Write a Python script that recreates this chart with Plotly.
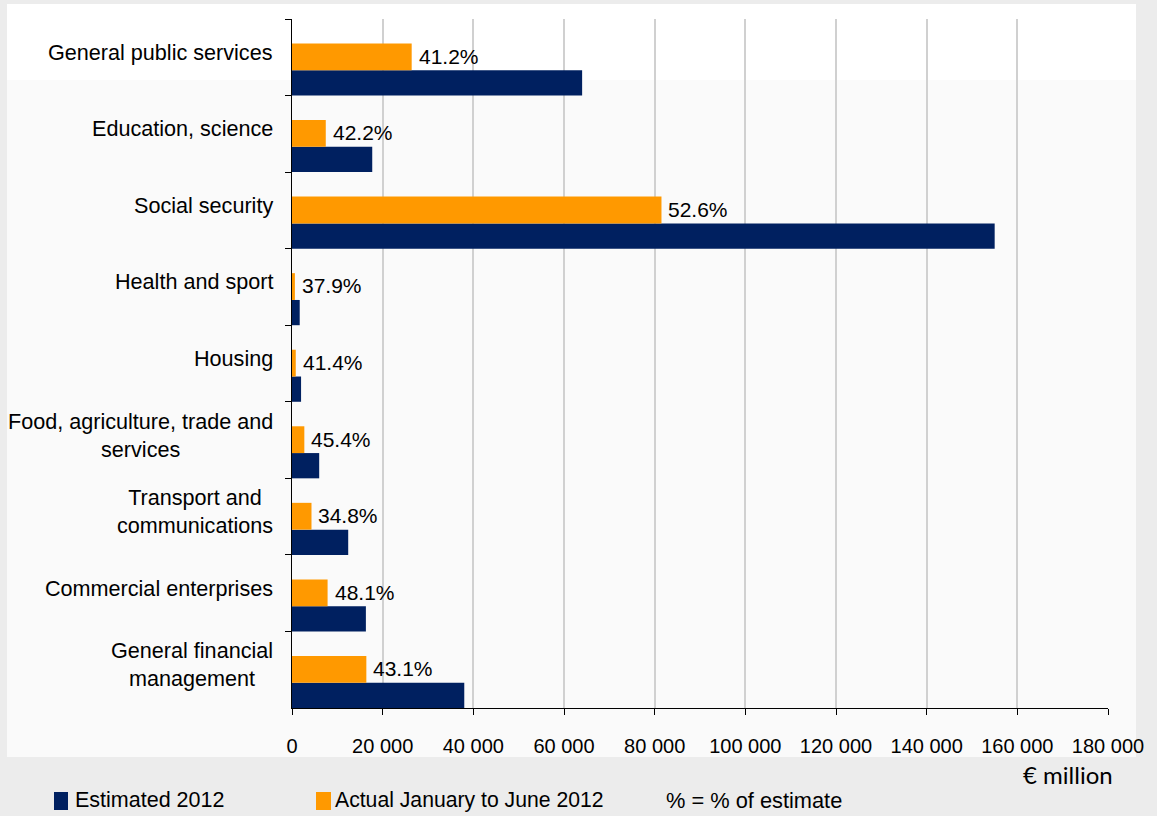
import plotly.graph_objects as go

# Functional breakdown of central government expenditure (EUR million)
categories = [
    "General public services",
    "Education, science",
    "Social security",
    "Health and sport",
    "Housing",
    "Food, agriculture, trade and<br>services",
    "Transport and<br>communications",
    "Commercial enterprises",
    "General financial<br>management",
]
estimated_2012 = [64000, 17700, 155000, 1700, 2000, 6000, 12400, 16300, 38000]
actual_jan_jun_2012 = [26400, 7450, 81500, 640, 830, 2720, 4300, 7850, 16400]
pct_of_estimate = ["41.2%", "42.2%", "52.6%", "37.9%", "41.4%",
                   "45.4%", "34.8%", "48.1%", "43.1%"]

x_ticks = [0, 20000, 40000, 60000, 80000, 100000, 120000, 140000, 160000, 180000]
x_tick_text = ["0", "20 000", "40 000", "60 000", "80 000", "100 000",
               "120 000", "140 000", "160 000", "180 000"]

NAVY = "#002060"
ORANGE = "#ff9900"
FONT = "Liberation Sans, Arial, sans-serif"
TXT = "#000000"

W, H = 1157, 816
ML, MR, MT, MB = 292, 49, 19, 108
PW, PH = W - ML - MR, H - MT - MB


def px_x(px):
    """Figure pixel column -> paper x (paper spans the plot area)."""
    return (px - ML) / PW


def px_y(py):
    """Figure pixel row (from top) -> paper y."""
    return (H - MB - py) / PH


fig = go.Figure()

# Estimated bars sit at the bottom of each category band,
# the half-year actuals directly above them.
fig.add_trace(go.Bar(
    y=categories, x=estimated_2012, orientation="h",
    name="Estimated 2012", marker=dict(color=NAVY, line=dict(width=0)),
    offset=0.17, width=0.33, showlegend=False,
))
fig.add_trace(go.Bar(
    y=categories, x=actual_jan_jun_2012, orientation="h",
    name="Actual January to June 2012", marker=dict(color=ORANGE, line=dict(width=0)),
    offset=-0.18, width=0.35, showlegend=False,
))

annotations = []
# percentage of estimate, next to each actual bar
for cat, val, pct in zip(categories, actual_jan_jun_2012, pct_of_estimate):
    annotations.append(dict(
        x=val, y=cat, xref="x", yref="y", text=pct, showarrow=False,
        xanchor="left", yanchor="middle", xshift=5, yshift=1,
        font=dict(family=FONT, size=21, color=TXT),
    ))

# category labels, centred text blocks right-aligned to the axis
for cat in categories:
    annotations.append(dict(
        x=0, y=cat, xref="paper", yref="y", text=cat, showarrow=False,
        xanchor="right", yanchor="middle", align="center", xshift=-17, yshift=5,
        font=dict(family=FONT, size=21.6, color=TXT),
    ))

# unit label
annotations.append(dict(
    x=px_x(1068), y=px_y(775), xref="paper", yref="paper",
    xanchor="center", yanchor="middle", text="€ million", showarrow=False,
    font=dict(family="Lato, Open Sans, sans-serif", size=24, color=TXT),
))

# legend row
legend_items = [
    (54, 68, NAVY, 73, "Estimated 2012", 21.5),
    (316, 331, ORANGE, 333, "Actual January to June 2012", 21.2),
    (None, None, None, 664, "% = % of estimate", 21.8),
]
shapes = [
    # light panel behind the chart
    dict(type="rect", xref="paper", yref="paper", layer="below",
         x0=px_x(7), x1=px_x(1136), y0=px_y(757), y1=px_y(80),
         fillcolor="#fafafa", line=dict(width=0)),
    dict(type="rect", xref="paper", yref="paper", layer="below",
         x0=px_x(7), x1=px_x(1136), y0=px_y(80), y1=px_y(4),
         fillcolor="#ffffff", line=dict(width=0)),
]
for x0, x1, col, tx, label, size in legend_items:
    if col is not None:
        shapes.append(dict(
            type="rect", xref="paper", yref="paper",
            x0=px_x(x0), x1=px_x(x1), y0=px_y(810), y1=px_y(792),
            fillcolor=col, line=dict(width=0),
        ))
    annotations.append(dict(
        x=px_x(tx), y=px_y(800), xref="paper", yref="paper",
        xanchor="left", yanchor="middle", text=label, showarrow=False,
        font=dict(family=FONT, size=size, color=TXT),
    ))

fig.update_layout(
    width=W, height=H,
    margin=dict(l=ML, r=MR, t=MT, b=MB),
    paper_bgcolor="#ececec", plot_bgcolor="rgba(0,0,0,0)",
    barmode="overlay",
    font=dict(family=FONT, size=20, color=TXT),
    showlegend=False,
    annotations=annotations,
    shapes=shapes,
    xaxis=dict(
        range=[0, 180000], tickvals=x_ticks, ticktext=x_tick_text,
        showgrid=True, gridcolor="#d0d0d0", gridwidth=1.5,
        zeroline=False, showline=True, linecolor="#000000", linewidth=1,
        ticks="outside", ticklen=6, tickcolor="#000000",
        ticklabelstandoff=14,
        tickfont=dict(family=FONT, size=20, color=TXT),
        fixedrange=True,
    ),
    yaxis=dict(
        type="category", autorange="reversed",
        showticklabels=False, showgrid=False, zeroline=False,
        showline=True, linecolor="#000000", linewidth=1,
        ticks="outside", ticklen=6, tickcolor="#000000",
        tickson="boundaries",
        fixedrange=True,
    ),
)

fig.write_html("out.html")
